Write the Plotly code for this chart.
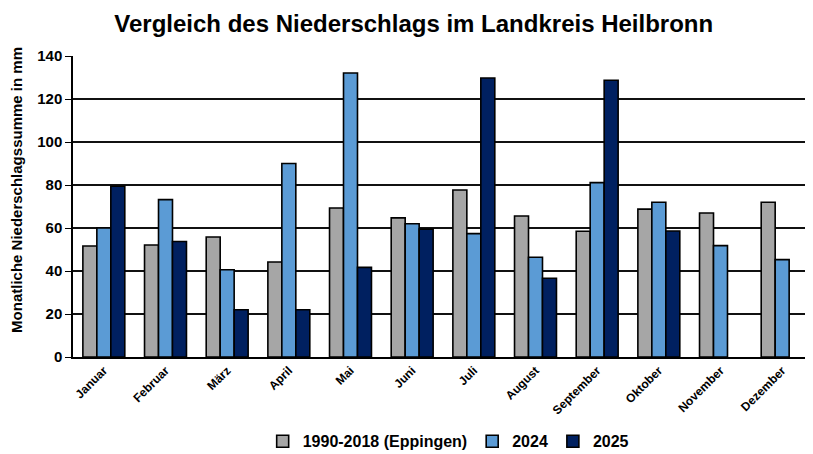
import plotly.graph_objects as go

months = ["Januar", "Februar", "März", "April", "Mai", "Juni", "Juli",
          "August", "September", "Oktober", "November", "Dezember"]
series_names = ["1990-2018 (Eppingen)", "2024", "2025"]
vals_ref = [51.6, 52.1, 55.8, 44.2, 69.3, 64.7, 77.7, 65.6, 58.5, 68.8, 67.0, 72.0]
vals_2024 = [60.0, 73.2, 40.6, 90.0, 132.1, 62.0, 57.4, 46.4, 81.1, 72.0, 51.8, 45.3]
vals_2025 = [79.4, 53.7, 22.0, 22.0, 41.7, 59.5, 129.8, 36.6, 128.7, 58.6, None, None]
colors = ["#A6A6A6", "#5B9BD5", "#002060"]
y_ticks = [0, 20, 40, 60, 80, 100, 120, 140]
y_title = "Monatliche Niederschlagssumme in mm"

FONT = "Arial, Liberation Sans, sans-serif"

fig = go.Figure()
for name, vals, col in zip(series_names, [vals_ref, vals_2024, vals_2025], colors):
    fig.add_trace(go.Bar(
        x=months, y=vals, name=name,
        marker=dict(color=col, line=dict(color="black", width=1.6)),
    ))

fig.update_layout(
    width=805, height=446,
    paper_bgcolor="white", plot_bgcolor="white",
    margin=dict(l=65, r=0, t=48, b=97, autoexpand=False),
    barmode="group", bargap=0.32, bargroupgap=0,
    font=dict(family=FONT, color="black"),
    title=dict(text="<b>Vergleich des Niederschlags im Landkreis Heilbronn</b>",
               x=0.504, xanchor="center", y=0.966, yanchor="middle",
               font=dict(size=24, family=FONT, color="black")),
    showlegend=True,
    legend=dict(orientation="h", x=0.507, xanchor="center", y=-0.28, yanchor="middle",
                font=dict(size=16, family=FONT, color="black", weight="bold"),
                itemwidth=30, traceorder="normal"),
    annotations=[dict(text="<b>" + y_title + "</b>", textangle=-90,
                      xref="paper", yref="paper", x=-0.0757, y=0.555,
                      xanchor="center", yanchor="middle", showarrow=False,
                      font=dict(size=15, family=FONT, color="black"))],
)
fig.update_xaxes(
    showline=True, linecolor="black", linewidth=1.5,
    tickangle=-45, ticks="", showgrid=False, automargin=False,
    tickfont=dict(size=12, family=FONT, color="black", weight="bold"),
)
fig.update_yaxes(
    range=[0, 140], tickvals=y_ticks, ticktext=[str(t) for t in y_ticks],
    showline=True, linecolor="black", linewidth=1.5, automargin=False,
    ticks="outside", ticklen=6, tickwidth=1.2, tickcolor="black",
    showgrid=True, gridcolor="#111111", gridwidth=1.5,
    tickfont=dict(size=15, family=FONT, color="black", weight="bold"),
    zeroline=False,
)

fig.write_html("out.html")
